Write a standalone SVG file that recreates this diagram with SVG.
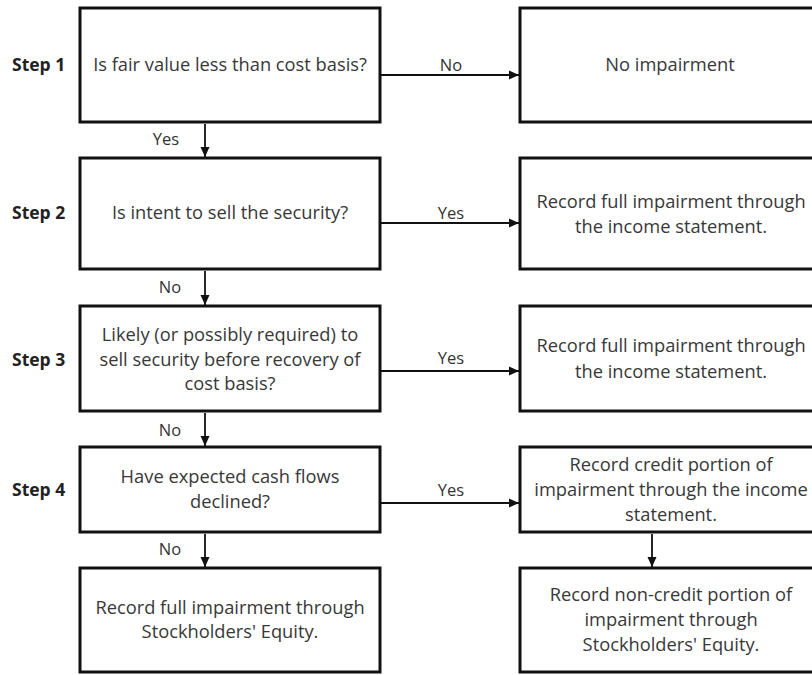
<svg xmlns="http://www.w3.org/2000/svg" width="812" height="675" viewBox="0 0 812 675">
<defs>
<marker id="ah" viewBox="0 0 10 10" refX="10" refY="5" markerWidth="10" markerHeight="10" markerUnits="userSpaceOnUse" orient="auto">
<path d="M0,0.5 L10,5 L0,9.5 Z" fill="#111"/>
</marker>
<style>
.box{fill:#fff;stroke:#111;stroke-width:3}
.t{font-family:"Open Sans","Noto Sans",sans-serif;font-size:18.3px;fill:#383838;text-anchor:middle}
.s{font-family:"Open Sans","Noto Sans",sans-serif;font-size:17.5px;font-weight:bold;fill:#222}
.l{font-family:"Open Sans","Noto Sans",sans-serif;font-size:16.5px;fill:#333;text-anchor:middle}
.c{stroke:#111;stroke-width:1.8;fill:none;marker-end:url(#ah)}
</style>
</defs>
<rect width="812" height="675" fill="#fff"/>
<g id="steps">
<text class="s" x="12" y="71">Step 1</text>
<text class="s" x="12" y="219">Step 2</text>
<text class="s" x="12" y="366">Step 3</text>
<text class="s" x="12" y="496">Step 4</text>
</g>
<g id="q1"><rect class="box" x="80" y="8" width="300" height="114"/><text class="t" x="230" y="71">Is fair value less than cost basis?</text></g>
<g id="q2"><rect class="box" x="80" y="158" width="300" height="111"/><text class="t" x="230" y="219">Is intent to sell the security?</text></g>
<g id="q3"><rect class="box" x="80" y="306" width="300" height="105"/><text class="t" x="230" y="341">Likely (or possibly required) to</text><text class="t" x="230" y="366">sell security before recovery of</text><text class="t" x="230" y="390">cost basis?</text></g>
<g id="q4"><rect class="box" x="80" y="447" width="300" height="85"/><text class="t" x="230" y="483">Have expected cash flows</text><text class="t" x="230" y="508">declined?</text></g>
<g id="r5"><rect class="box" x="80" y="568" width="300" height="104"/><text class="t" x="230" y="614">Record full impairment through</text><text class="t" x="230" y="638">Stockholders' Equity.</text></g>
<g id="a1"><rect class="box" x="520" y="8" width="310" height="114"/><text class="t" x="670" y="71">No impairment</text></g>
<g id="a2"><rect class="box" x="520" y="158" width="310" height="111"/><text class="t" x="671" y="208">Record full impairment through</text><text class="t" x="671" y="233">the income statement.</text></g>
<g id="a3"><rect class="box" x="520" y="306" width="310" height="105"/><text class="t" x="671" y="352">Record full impairment through</text><text class="t" x="671" y="378">the income statement.</text></g>
<g id="a4"><rect class="box" x="520" y="447" width="310" height="85"/><text class="t" x="671" y="471">Record credit portion of</text><text class="t" x="671" y="496">impairment through the income</text><text class="t" x="671" y="521">statement.</text></g>
<g id="a5"><rect class="box" x="520" y="568" width="310" height="104"/><text class="t" x="671" y="601">Record non-credit portion of</text><text class="t" x="671" y="626">impairment through</text><text class="t" x="671" y="651">Stockholders' Equity.</text></g>
<g id="connectors">
<line class="c" x1="380" y1="75" x2="519" y2="75"/>
<line class="c" x1="380" y1="223" x2="519" y2="223"/>
<line class="c" x1="380" y1="371" x2="519" y2="371"/>
<line class="c" x1="380" y1="503" x2="519" y2="503"/>
<line class="c" x1="205" y1="124" x2="205" y2="157"/>
<line class="c" x1="205" y1="271" x2="205" y2="305"/>
<line class="c" x1="205" y1="413" x2="205" y2="446"/>
<line class="c" x1="205" y1="534" x2="205" y2="567"/>
<line class="c" x1="652" y1="534" x2="652" y2="567"/>
<text class="l" x="451" y="71">No</text>
<text class="l" x="451" y="219">Yes</text>
<text class="l" x="451" y="364">Yes</text>
<text class="l" x="451" y="496">Yes</text>
<text class="l" x="166" y="145">Yes</text>
<text class="l" x="170" y="293">No</text>
<text class="l" x="170" y="436">No</text>
<text class="l" x="170" y="555">No</text>
</g>
</svg>
